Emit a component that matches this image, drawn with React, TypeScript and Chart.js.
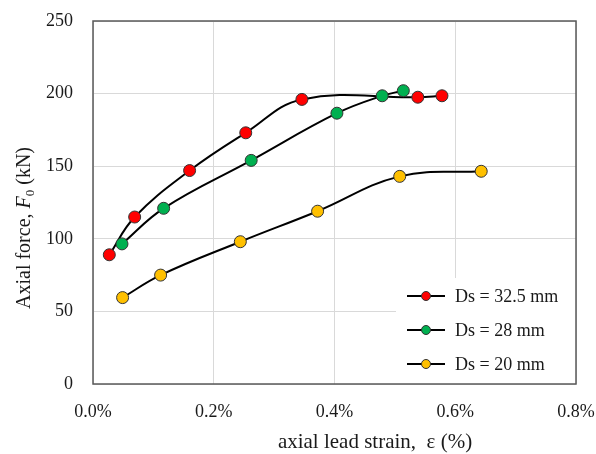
import React, { useEffect, useRef } from "react";
import { Chart, registerables } from "chart.js";

Chart.register(...registerables);

const seriesLabels = ["Ds = 32.5 mm", "Ds = 28 mm", "Ds = 20 mm"];
const seriesColors = ["#FF0000", "#00B050", "#FFC000"];

const redX = [0.027, 0.069, 0.16, 0.253, 0.346, 0.538, 0.578];
const redY = [89, 115, 147, 173, 196, 197.5, 198.5];
const greenX = [0.048, 0.117, 0.262, 0.404, 0.479, 0.514];
const greenY = [96.5, 121, 154, 186.5, 198.5, 202];
const yellowX = [0.049, 0.112, 0.244, 0.372, 0.508, 0.643];
const yellowY = [59.5, 75, 98, 119, 143, 146.5];

const xMin = 0;
const xMax = 0.8;
const xStep = 0.2;
const yMin = 0;
const yMax = 250;
const yStep = 50;

const xTitle = "axial lead strain,  \u03b5 (%)";
const yTitleParts = ["Axial force, ", "F", "0", " (kN)"];

const FONT = "'Liberation Serif', 'Times New Roman', serif";
const TEXT = "#1a1a1a";

const toPoints = (xs: number[], ys: number[]) => xs.map((x, i) => ({ x, y: ys[i] }));

const decorPlugin = {
  id: "decor",
  afterDatasetsDraw(chart: any) {
    const { ctx, chartArea } = chart;
    const { right, bottom } = chartArea;
    const lx = right - 180;
    const ly = bottom - 106;
    ctx.save();
    ctx.fillStyle = "#ffffff";
    ctx.fillRect(lx, ly, right - lx, bottom - ly);
    const ds = chart.data.datasets;
    ds.forEach((d: any, i: number) => {
      const cy = ly + 18 + i * 34;
      const x0 = lx + 11;
      ctx.strokeStyle = "#000000";
      ctx.lineWidth = 2;
      ctx.beginPath();
      ctx.moveTo(x0, cy);
      ctx.lineTo(x0 + 38, cy);
      ctx.stroke();
      ctx.beginPath();
      ctx.arc(x0 + 19, cy, 4.5, 0, Math.PI * 2);
      ctx.fillStyle = d.backgroundColor;
      ctx.fill();
      ctx.lineWidth = 1;
      ctx.strokeStyle = "#333333";
      ctx.stroke();
      ctx.fillStyle = TEXT;
      ctx.font = `18px ${FONT}`;
      ctx.textBaseline = "middle";
      ctx.textAlign = "left";
      ctx.fillText(d.label, x0 + 48, cy + 1);
    });
    ctx.restore();
  },
  afterDraw(chart: any) {
    const { ctx, chartArea } = chart;
    const { left, top, right, bottom } = chartArea;
    ctx.save();
    ctx.strokeStyle = "#595959";
    ctx.lineWidth = 1.5;
    ctx.strokeRect(left, top, right - left, bottom - top);

    ctx.fillStyle = TEXT;
    ctx.font = `21px ${FONT}`;
    ctx.textAlign = "center";
    ctx.textBaseline = "alphabetic";
    ctx.fillText(xTitle, 375, 448);

    ctx.translate(30, 228);
    ctx.rotate(-Math.PI / 2);
    const fonts = [
      `20px ${FONT}`,
      `italic 20px ${FONT}`,
      `13px ${FONT}`,
      `20px ${FONT}`,
    ];
    const offs = [0, 0, 4, 0];
    const widths = yTitleParts.map((p, i) => {
      ctx.font = fonts[i];
      return ctx.measureText(p).width;
    });
    const total = widths.reduce((a, b) => a + b, 0);
    let x = -total / 2;
    ctx.textAlign = "left";
    yTitleParts.forEach((p, i) => {
      ctx.font = fonts[i];
      ctx.fillText(p, x, offs[i]);
      x += widths[i];
    });
    ctx.restore();
  },
};

const zeroPad = (s: any) => {
  s.paddingTop = 0;
  s.paddingBottom = 0;
  s.paddingLeft = 0;
  s.paddingRight = 0;
};

export default function App() {
  const ref = useRef<HTMLCanvasElement>(null);

  useEffect(() => {
    if (!ref.current) return;
    const makeDs = (label: string, color: string, xs: number[], ys: number[], order: number) => ({
      label,
      data: toPoints(xs, ys),
      borderColor: "#000000",
      borderWidth: 2,
      backgroundColor: color,
      pointBackgroundColor: color,
      pointBorderColor: "#333333",
      pointBorderWidth: 1,
      pointRadius: 6,
      tension: 0.4,
      fill: false,
      order,
    });
    const chart = new Chart(ref.current, {
      type: "line",
      data: {
        datasets: [
          makeDs(seriesLabels[0], seriesColors[0], redX, redY, 1),
          makeDs(seriesLabels[1], seriesColors[1], greenX, greenY, 0),
          makeDs(seriesLabels[2], seriesColors[2], yellowX, yellowY, 2),
        ],
      },
      options: {
        responsive: false,
        animation: false,
        layout: { padding: { left: 0, top: 21, right: 20, bottom: 0 } },
        plugins: {
          legend: { display: false },
          tooltip: { enabled: false },
          title: { display: false },
        },
        scales: {
          x: {
            type: "linear",
            min: xMin,
            max: xMax,
            border: { display: false },
            grid: { color: "#d9d9d9", lineWidth: 1, drawTicks: false },
            ticks: {
              stepSize: xStep,
              padding: 17,
              color: TEXT,
              font: { family: FONT, size: 18 },
              callback: (v: any) => Number(v).toFixed(1) + "%",
              maxRotation: 0,
            },
            afterFit: (s: any) => {
              s.height = 70;
              zeroPad(s);
            },
          },
          y: {
            type: "linear",
            min: yMin,
            max: yMax,
            border: { display: false },
            grid: { color: "#d9d9d9", lineWidth: 1, drawTicks: false },
            ticks: {
              stepSize: yStep,
              padding: 20,
              color: TEXT,
              font: { family: FONT, size: 18 },
            },
            afterFit: (s: any) => {
              s.width = 93;
              zeroPad(s);
            },
          },
        },
      },
      plugins: [decorPlugin],
    });
    return () => chart.destroy();
  }, []);

  return (
    <div style={{ position: "fixed", left: 0, top: 0, width: 596, height: 454, background: "#fff" }}>
      <canvas ref={ref} width={596} height={454} style={{ display: "block" }} />
    </div>
  );
}
